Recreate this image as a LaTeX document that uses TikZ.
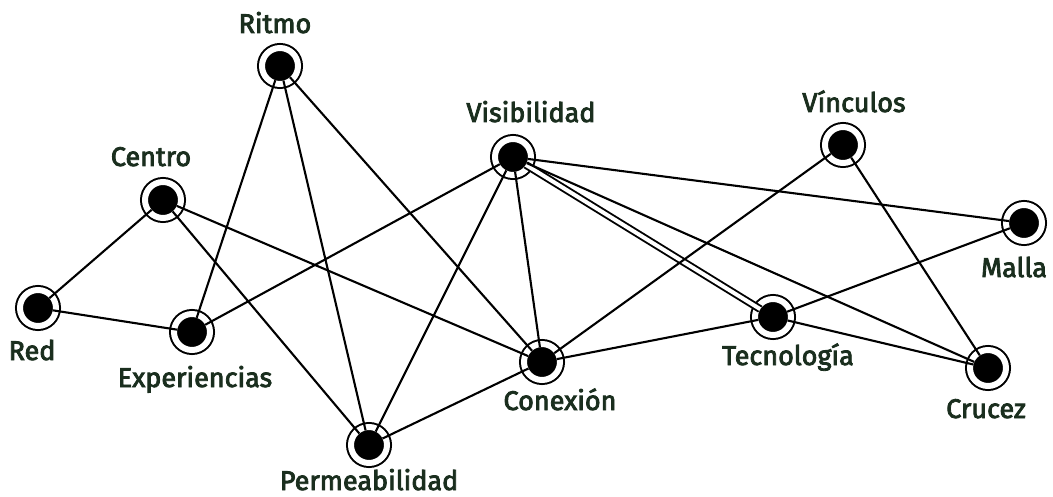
\documentclass[tikz,border=0pt]{standalone}
\usepackage{fontspec}
\newfontfamily\tagfont{Fira Sans}[FakeBold=3]
\definecolor{labelgreen}{RGB}{26,46,30}

\begin{document}
\begin{tikzpicture}[x=1pt, y=-1pt,
  hub/.style={circle, fill=black, draw=black, line width=2pt, double=white,
    double distance=6pt, minimum size=36pt, inner sep=0pt, outer sep=-3pt},
  tag/.style={font=\tagfont\fontsize{27}{30}\selectfont, text=labelgreen, inner sep=0pt, anchor=base},
  link/.style={line width=2.1pt}]

\useasboundingbox (0,0) rectangle (1053,497);

% Draw the hubs
\node[hub] (ritmo) at (280,66) {};
\node[hub] (centro) at (163,200) {};
\node[hub] (red) at (38,308) {};
\node[hub] (exper) at (192,332) {};
\node[hub] (perme) at (369,445) {};
\node[hub] (visib) at (513,157) {};
\node[hub] (conex) at (542,362) {};
\node[hub] (vinc) at (843,145) {};
\node[hub] (malla) at (1024,223) {};
\node[hub] (tecno) at (773,317) {};
\node[hub] (crucez) at (988,368) {};

% Labels
\node[tag] (ritmoL) at (275,33) {Ritmo};
\node[tag] (centroL) at (151,166) {Centro};
\node[tag] (redL) at (32,360) {Red};
\node[tag] (experL) at (195,387) {Experiencias};
\node[tag] (permeL) at (369,490) {Permeabilidad};
\node[tag] (visibL) at (531,122) {Visibilidad};
\node[tag] (conexL) at (560,410) {Conexión};
\node[tag] (vincL) at (854,112) {Vínculos};
\node[tag] (mallaL) at (1014,277) {Malla};
\node[tag] (tecnoL) at (788,365) {Tecnología};
\node[tag] (crucezL) at (986,418) {Crucez};

% Double link
\draw[link, line width=1.9pt, double=white, double distance=4pt] (visib) -- (tecno);

% Links
\draw[link] (ritmo) -- (exper);
\draw[link] (ritmo) -- (perme);
\draw[link] (ritmo) -- (conex);
\draw[link] (centro) -- (red);
\draw[link] (centro) -- (conex);
\draw[link] (centro) -- (perme);
\draw[link] (red) -- (exper);
\draw[link] (exper) -- (visib);
\draw[link] (visib) -- (perme);
\draw[link] (visib) -- (conex);
\draw[link] (visib) -- (malla);
\draw[link] (visib) -- (crucez);
\draw[link] (perme) -- (conex);
\draw[link] (conex) -- (vinc);
\draw[link] (conex) -- (tecno);
\draw[link] (tecno) -- (malla);
\draw[link] (tecno) -- (crucez);
\draw[link] (vinc) -- (crucez);

\end{tikzpicture}
\end{document}
